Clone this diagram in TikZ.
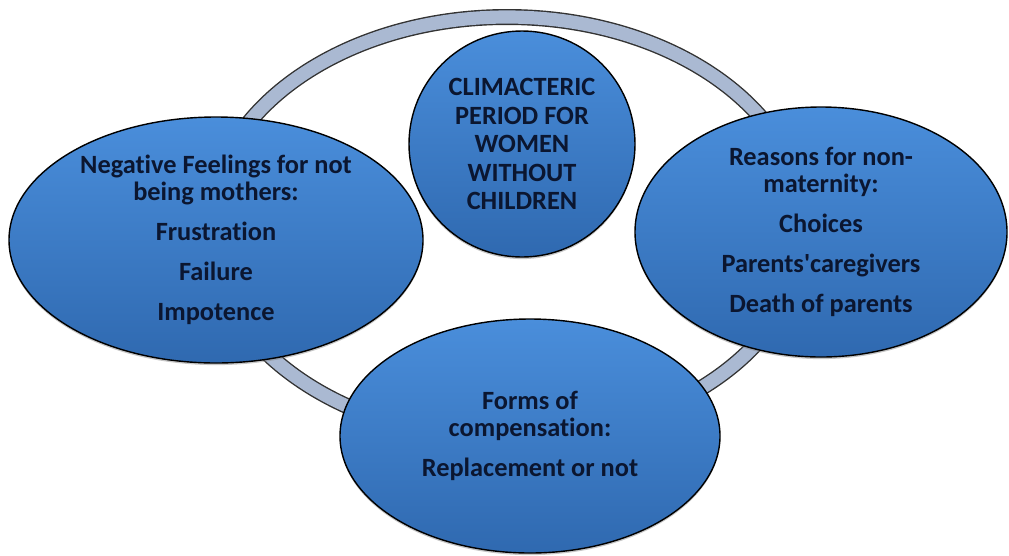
\documentclass[tikz,border=0pt]{standalone}
\usepackage{fontspec}
\newfontfamily\calibri{Carlito}[Ligatures=NoCommon]
\usetikzlibrary{shapes.geometric, shadows}
\definecolor{bubbletop}{HTML}{4A8EDB}
\definecolor{bubblebottom}{HTML}{2F69B0}
\definecolor{textnavy}{HTML}{0B1630}
\definecolor{ringgrey}{HTML}{AAB9D2}

\begin{document}
\begin{tikzpicture}[font=\calibri\fontsize{15}{15.4}\selectfont\bfseries,
    bubble/.style={ellipse, draw=black, line width=0.8pt, top color=bubbletop,
        bottom color=bubblebottom, text=textnavy, align=center, inner sep=0pt,
        drop shadow={shadow xshift=0pt, shadow yshift=-1.2pt, opacity=0.45}}]
    \useasboundingbox (0,0) rectangle (20.18,-11.10);

    \node (ring) [ellipse, draw=black!80, line width=0.8pt, double=ringgrey, double distance=7.5pt,
        minimum width=11.92cm, minimum height=8.44cm, inner sep=0pt] at (10.14,-4.56) {};

    \node (core) [bubble, circle, minimum size=4.52cm, font=\calibri\fontsize{15}{16.2}\selectfont\bfseries]
        at (10.44,-2.88) {CLIMACTERIC\\PERIOD FOR\\WOMEN\\WITHOUT\\CHILDREN};
    \node (feelings) [bubble, minimum width=8.28cm, minimum height=4.92cm] at (4.32,-4.80)
        {Negative Feelings for not\\being mothers:\\[7.4pt] Frustration\\[7.4pt] Failure\\[7.4pt] Impotence};
    \node (reasons) [bubble, minimum width=7.44cm, minimum height=5.00cm] at (16.42,-4.64)
        {Reasons for non-\\maternity:\\[7.4pt] Choices\\[7.4pt] Parents'caregivers\\[7.4pt] Death of parents};
    \node (compensation) [bubble, minimum width=7.60cm, minimum height=4.68cm] at (10.60,-8.72)
        {Forms of\\compensation:\\[7.4pt] Replacement or not};
\end{tikzpicture}
\end{document}
